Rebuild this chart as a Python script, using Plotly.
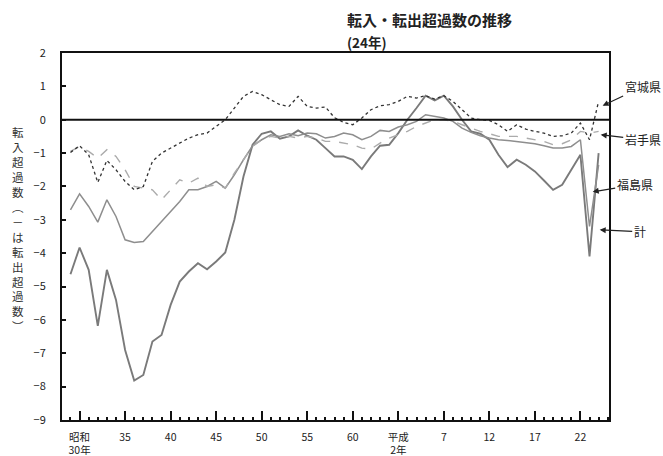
import plotly.graph_objects as go

years = [1954, 1955, 1956, 1957, 1958, 1959, 1960, 1961, 1962, 1963,
         1964, 1965, 1966, 1967, 1968, 1969, 1970, 1971, 1972, 1973,
         1974, 1975, 1976, 1977, 1978, 1979, 1980, 1981, 1982, 1983,
         1984, 1985, 1986, 1987, 1988, 1989, 1990, 1991, 1992, 1993,
         1994, 1995, 1996, 1997, 1998, 1999, 2000, 2001, 2002, 2003,
         2004, 2005, 2006, 2007, 2008, 2009, 2010, 2011, 2012]

miyagi = [-0.98, -0.78, -1.05, -1.88, -1.22, -1.5, -1.85, -2.1, -2.0, -1.25,
          -1.0, -0.85, -0.68, -0.55, -0.45, -0.4, -0.2, 0.0, 0.35, 0.7,
          0.85, 0.75, 0.6, 0.45, 0.4, 0.7, 0.4, 0.35, 0.38, 0.06,
          -0.08, -0.15, 0.05, 0.3, 0.42, 0.45, 0.55, 0.7, 0.65, 0.72,
          0.62, 0.72, 0.55, 0.3, 0.05, 0.0, -0.02, -0.15, -0.35, -0.15,
          -0.28, -0.35, -0.4, -0.5, -0.48, -0.4, -0.1, -0.6, 0.55]

iwate = [-0.95, -0.8, -0.95, -1.15, -0.9, -1.1, -1.5, -2.0, -2.05, -2.1,
         -2.4, -2.1, -1.8, -1.9, -1.75, -2.0, -1.95, -2.05, -1.6, -1.2,
         -0.8, -0.6, -0.5, -0.55, -0.5, -0.55, -0.5, -0.55, -0.65, -0.65,
         -0.7, -0.75, -0.85, -0.88, -0.7, -0.55, -0.45, -0.35, -0.2, -0.1,
         0.0, 0.0, -0.05, -0.15, -0.25, -0.35, -0.42, -0.5, -0.5, -0.5,
         -0.55, -0.6, -0.65, -0.75, -0.72, -0.6, -0.35, -0.4, -0.35]

fukushima = [-2.7, -2.22, -2.6, -3.07, -2.4, -2.9, -3.6, -3.68, -3.65, -3.35,
             -3.05, -2.75, -2.45, -2.1, -2.1, -2.0, -1.85, -2.05, -1.65, -1.2,
             -0.78, -0.6, -0.45, -0.5, -0.42, -0.48, -0.4, -0.42, -0.55, -0.5,
             -0.4, -0.45, -0.6, -0.5, -0.32, -0.35, -0.22, -0.15, -0.05, 0.15,
             0.1, 0.05, -0.05, -0.25, -0.38, -0.48, -0.55, -0.6, -0.62, -0.65,
             -0.68, -0.72, -0.78, -0.85, -0.85, -0.8, -0.6, -3.2, -1.35]

total = [-4.63, -3.83, -4.5, -6.18, -4.5, -5.4, -6.9, -7.82, -7.65, -6.65,
         -6.45, -5.55, -4.85, -4.55, -4.3, -4.48, -4.25, -3.98, -3.0, -1.7,
         -0.75, -0.42, -0.35, -0.57, -0.5, -0.32, -0.48, -0.6, -0.85, -1.1,
         -1.1, -1.2, -1.48, -1.1, -0.78, -0.75, -0.4, 0.0, 0.35, 0.72,
         0.58, 0.72, 0.4, 0.0, -0.35, -0.42, -0.6, -1.05, -1.42, -1.2,
         -1.35, -1.55, -1.82, -2.1, -1.95, -1.5, -1.05, -4.1, -1.0]

tick_years = [1955, 1960, 1965, 1970, 1975, 1980, 1985, 1990, 1995, 2000, 2005, 2010]
tick_labels = ["昭和<br>30年", "35", "40", "45", "50", "55", "60", "平成<br>2年",
               "7", "12", "17", "22"]
y_ticks = [-9, -8, -7, -6, -5, -4, -3, -2, -1, 0, 1, 2]

title_lines = ["転入・転出超過数の推移", "(24年)"]
y_title_chars = ["転", "入", "超", "過", "数", "︵", "－", "は", "転", "出", "超", "過", "数", "︶"]

FONT = "Noto Sans CJK JP"

fig = go.Figure()
fig.add_trace(go.Scatter(x=years, y=total, mode="lines", name="計",
                         line=dict(color="#7a7a7a", width=1.9)))
fig.add_trace(go.Scatter(x=years, y=fukushima, mode="lines", name="福島県",
                         line=dict(color="#8e8e8e", width=1.5)))
fig.add_trace(go.Scatter(x=years, y=iwate, mode="lines", name="岩手県",
                         line=dict(color="#ababab", width=1.4, dash="dash")))
fig.add_trace(go.Scatter(x=years, y=miyagi, mode="lines", name="宮城県",
                         line=dict(color="#333333", width=1.3, dash="dot")))

fig.add_shape(type="line", xref="paper", yref="y", x0=0, x1=1, y0=0, y1=0,
              line=dict(color="#111111", width=2))

fig.update_layout(
    width=663, height=456,
    margin=dict(l=62, r=54, t=53, b=36),
    paper_bgcolor="white", plot_bgcolor="white",
    showlegend=False,
    font=dict(family=FONT, color="#222222", size=11),
)
fig.update_xaxes(
    range=[1953.07, 2013.14], automargin=False,
    tickvals=tick_years, ticktext=tick_labels,
    ticks="inside", ticklen=9, tickwidth=1.5, tickcolor="#111111",
    minor=dict(dtick=1, tick0=1955, ticks="inside", ticklen=3, tickcolor="#111111", showgrid=False),
    showline=True, linecolor="#111111", linewidth=2, mirror=True,
    showgrid=False, zeroline=False,
    tickfont=dict(family=FONT, size=10.5, color="#222222"),
    ticklabelstandoff=6,
)
fig.update_yaxes(
    range=[-9, 2], tickvals=y_ticks, automargin=False,
    ticks="inside", ticklen=4, tickwidth=1.5, tickcolor="#111111",
    showline=True, linecolor="#111111", linewidth=2, mirror=True,
    showgrid=False, zeroline=False,
    tickfont=dict(family=FONT, size=11, color="#222222"),
    ticklabelstandoff=12,
)

# title (two lines as separate annotations)
fig.add_annotation(xref="paper", yref="paper", x=0.517, y=1.0926,
                   xanchor="left", yanchor="middle", showarrow=False,
                   text="<b>" + title_lines[0] + "</b>",
                   font=dict(family=FONT, size=15, color="#222222"))
fig.add_annotation(xref="paper", yref="paper", x=0.517, y=1.031,
                   xanchor="left", yanchor="middle", showarrow=False,
                   text="<b>" + title_lines[1] + "</b>",
                   font=dict(family=FONT, size=13.5, color="#222222"))

# vertical y-axis title
fig.add_annotation(xref="paper", yref="paper", x=-0.08, y=0.52,
                   xanchor="center", yanchor="middle", showarrow=False,
                   text="<br>".join(y_title_chars),
                   font=dict(family=FONT, size=11.5, color="#333333"))

# right-side labels with arrows
labels = [
    ("宮城県", 2012.44, 0.42, 40, -19),
    ("岩手県", 2012.23, -0.45, 42, 5),
    ("福島県", 2011.35, -2.16, 42, -7),
    ("計", 2012.12, -3.3, 40, 2),
]
for txt, lx, ly, ax, ay in labels:
    fig.add_annotation(x=lx, y=ly, xref="x", yref="y", text=txt,
                       showarrow=True, ax=ax, ay=ay, arrowhead=2, arrowsize=1,
                       arrowwidth=1.2, arrowcolor="#222222",
                       font=dict(family=FONT, size=12, color="#222222"))

fig.write_html("out.html", config={"displayModeBar": False},
               post_script="document.body.style.margin='0';document.body.style.padding='0';")
